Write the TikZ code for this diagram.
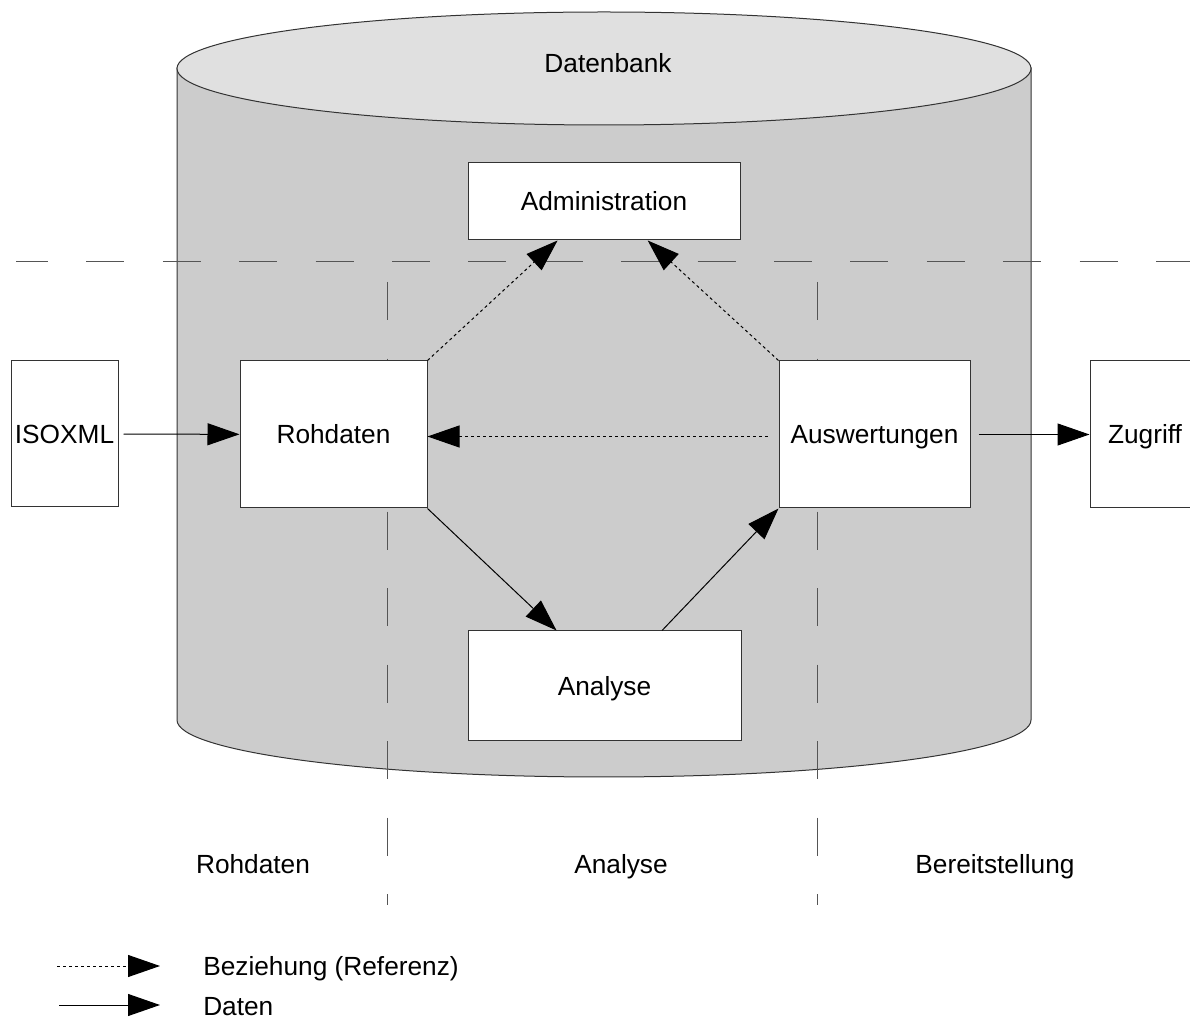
\documentclass[tikz,border=0pt]{standalone}
\usepackage{fontspec}
\setmainfont{Liberation Sans}
\usetikzlibrary{arrows.meta,calc}
\definecolor{linec}{HTML}{333333}
\definecolor{sepc}{HTML}{555555}
\definecolor{bodyc}{HTML}{CCCCCC}
\definecolor{topc}{HTML}{E0E0E0}
\begin{document}
% one unit = 0.75pt; y runs downwards
\begin{tikzpicture}[x=0.75pt,y=-0.75pt,
  every node/.style={font=\fontsize{19.7pt}{23pt}\selectfont,text height=14.1pt,text depth=0pt},
  box/.style={draw=linec,fill=white,line width=0.75pt,inner sep=0pt},
  sep/.style={draw=sepc,line width=0.75pt},
  datenpfeil/.style={draw=black,line width=0.75pt,-{Triangle[length=24pt,width=16.5pt]}},
  bezpfeil/.style={datenpfeil,dash pattern=on 2.25pt off 2.25pt},
  ]
\clip (0,0) rectangle (1190,1019);

% database cylinder
\filldraw[draw=linec,fill=bodyc,line width=0.75pt]
  (177,68) -- (177,720) arc[start angle=180,end angle=0,x radius=427,y radius=57]
  -- (1031,68) -- cycle;
\filldraw[draw=linec,fill=topc,line width=0.75pt] (604,68.5) ellipse [x radius=427,y radius=56.5];
\node (db) at (608,63) {Datenbank};

% separators between the stages
\draw[sep,dash pattern=on 28.5pt off 28.8pt,dash phase=4.5pt] (16,262) -- (1190,262);
\draw[sep,dash pattern=on 28.5pt off 28.9pt] (387,282) -- (387,905);
\draw[sep,dash pattern=on 28.5pt off 28.9pt] (817,282) -- (817,905);

% boxes
\node[box,minimum width=204pt,minimum height=57.75pt] (adm) at (604,201.5) {Administration};
\node[box,minimum width=140.25pt,minimum height=110.25pt] (roh) at (333.5,434.5) {Rohdaten};
\node[box,minimum width=143.25pt,minimum height=110.25pt] (ausw) at (874.5,434.5) {Auswertungen};
\node[box,minimum width=204.75pt,minimum height=82.5pt] (ana) at (604.5,686) {Analyse};
\node[box,minimum width=80.25pt,minimum height=109.5pt] (iso) at (64.5,434) {ISOXML};
\node[box,minimum width=82.5pt,minimum height=110.25pt] (zug) at (1145,434.5) {Zugriff};

% data flow
\draw[datenpfeil,shorten <=3.75pt] (iso) -- (roh);
\draw[datenpfeil,shorten <=6pt] (ausw) -- (zug);
\draw[datenpfeil] (roh.south east) -- ($(ana.north west)!0.325!(ana.north east)$);
\draw[datenpfeil] ($(ana.north west)!0.71!(ana.north east)$) -- (ausw.south west);

% references
\draw[bezpfeil,shorten <=8.25pt] ([yshift=-1.5pt]ausw.west) -- ([yshift=-1.5pt]roh.east);
\draw[bezpfeil] (roh.north east) -- ($(adm.south west)!0.33!(adm.south east)$);
\draw[bezpfeil] (ausw.north west) -- ($(adm.south west)!0.66!(adm.south east)$);

% stage labels
\node (lroh) at (253,864) {Rohdaten};
\node (lana) at (621,864) {Analyse};
\node (lber) at (995,864) {Bereitstellung};

% legend
\coordinate (l1a) at (57,966);
\coordinate (l1b) at (160,966);
\coordinate (l2a) at (59,1005);
\coordinate (l2b) at (160,1005);
\draw[bezpfeil] (l1a) -- (l1b);
\draw[datenpfeil] (l2a) -- (l2b);
\node[anchor=west,inner sep=0pt] (t1) at (203,966) {Beziehung (Referenz)};
\node[anchor=west,inner sep=0pt] (t2) at (203,1006) {Daten};
\end{tikzpicture}
\end{document}
